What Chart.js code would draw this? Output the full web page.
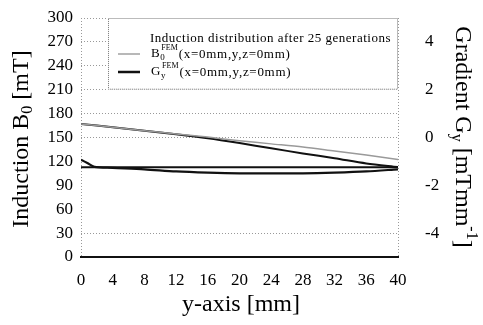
<!DOCTYPE html>
<html>
<head>
<meta charset="utf-8">
<script src="https://cdn.jsdelivr.net/npm/chart.js@4.4.1/dist/chart.umd.min.js"></script>
<style>
  html, body { margin: 0; padding: 0; background: #fff; }
  #wrap { width: 483px; height: 325px; position: relative; }
</style>
</head>
<body>
<div id="wrap"><canvas id="c"></canvas></div>
<script>
// y positions along the axis [mm]
const yPos = [0, 4, 8, 12, 16, 20, 24, 28, 32, 36, 40];
const yPosGy = [0, 0.8, 1.7, 4, 8, 12, 16, 20, 24, 28, 32, 36, 40];

// induction B0 [mT] (left axis)
const b0Dark = [167, 163, 158.5, 154, 149, 143, 136.5, 130, 124, 117.5, 113];
const b0Gray = [167, 163, 158.5, 154.5, 150.5, 146, 142, 138, 133, 128, 122.5];

// gradient Gy [mT/mm] (right axis)
const gyCurve = [-0.93, -1.07, -1.23, -1.27, -1.33, -1.42, -1.47, -1.5, -1.5, -1.5, -1.47, -1.42, -1.33];
const gyFlat = [-1.24, -1.24, -1.24, -1.24, -1.24, -1.24, -1.24, -1.24, -1.24, -1.24, -1.24];

const xTicks = [0, 4, 8, 12, 16, 20, 24, 28, 32, 36, 40];
const b0Ticks = [0, 30, 60, 90, 120, 150, 180, 210, 240, 270, 300];
const gyTicks = [-4, -2, 0, 2, 4];
const gridShown = [30, 150, 180, 210, 240, 270, 300];

const FONT = "'Liberation Serif', 'DejaVu Serif', serif";

const pts = (xs, ys) => xs.map((x, i) => ({ x: x, y: ys[i] }));

// draw a string made of normal / sub / sup pieces, centred on x
function drawRich(ctx, parts, x, y) {
    let w = 0;
    parts.forEach(p => { ctx.font = p.size + 'px ' + FONT; w += ctx.measureText(p.t).width; });
    let cx = x - w / 2;
    parts.forEach(p => {
        ctx.font = p.size + 'px ' + FONT;
        ctx.fillText(p.t, cx, y + (p.dy || 0));
        cx += ctx.measureText(p.t).width;
    });
}

const extras = {
    id: 'extras',
    afterDatasetsDraw(chart) {
        const ctx = chart.ctx;
        const a = chart.chartArea;
        ctx.save();
        ctx.textBaseline = 'middle';
        ctx.textAlign = 'left';

        // legend box
        const lx = 108, ly = a.top, lw = a.right - 108, lh = chart.scales.y.getPixelForValue(210) - a.top;
        ctx.fillStyle = '#fff';
        ctx.fillRect(lx, ly, lw, lh);
        ctx.strokeStyle = '#777';
        ctx.lineWidth = 1;
        ctx.setLineDash([1, 1]);
        ctx.strokeRect(lx + 0.5, ly + 0.5, lw - 1, lh - 1);
        ctx.setLineDash([]);

        ctx.fillStyle = '#000';
        ctx.letterSpacing = '0.5px';
        ctx.font = '13px ' + FONT;
        ctx.fillText('Induction distribution after 25 generations', 150, 39);

        ctx.strokeStyle = '#888';
        ctx.lineWidth = 1.2;
        ctx.beginPath(); ctx.moveTo(118, 54); ctx.lineTo(140, 54); ctx.stroke();
        ctx.strokeStyle = '#111';
        ctx.lineWidth = 2.5;
        ctx.beginPath(); ctx.moveTo(118, 72); ctx.lineTo(140, 72); ctx.stroke();

        const row = (label, sub, y) => {
            let cx = 151;
            ctx.letterSpacing = '0.7px';
            ctx.font = '13px ' + FONT;
            ctx.fillText(label, cx, y); cx += ctx.measureText(label).width;
            ctx.letterSpacing = '0px';
            ctx.font = '9px ' + FONT;
            ctx.fillText(sub, cx, y + 4);
            ctx.font = '8px ' + FONT;
            ctx.fillText('FEM', cx + 1, y - 6); cx += ctx.measureText('FEM').width + 2;
            ctx.letterSpacing = '0.7px';
            ctx.font = '13px ' + FONT;
            ctx.fillText('(x=0mm,y,z=0mm)', cx, y + 1);
        };
        row('B', '0', 54);
        row('G', 'y', 72);
        ctx.letterSpacing = '0px';

        // axis titles
        ctx.save();
        ctx.translate(22, 139);
        ctx.rotate(-Math.PI / 2);
        drawRich(ctx, [{ t: 'Induction B', size: 24 }, { t: '0', size: 16, dy: 6 }, { t: ' [mT]', size: 24 }], 0, 0);
        ctx.restore();

        ctx.save();
        ctx.translate(462, 137);
        ctx.rotate(Math.PI / 2);
        drawRich(ctx, [{ t: 'Gradient G', size: 24 }, { t: 'y', size: 16, dy: 6 }, { t: ' [mTmm', size: 24 },
            { t: '-1', size: 16, dy: -9 }, { t: ']', size: 24 }], 0, 0);
        ctx.restore();

        drawRich(ctx, [{ t: 'y-axis [mm]', size: 24 }], 241, 305);
        ctx.restore();
    }
};

new Chart(document.getElementById('c'), {
    type: 'line',
    data: {
        datasets: [
            { label: 'B0 gray', data: pts(yPos, b0Gray), yAxisID: 'y', borderColor: '#9a9a9a', borderWidth: 1.5 },
            { label: 'B0 dark', data: pts(yPos, b0Dark), yAxisID: 'y', borderColor: '#111', borderWidth: 2 },
            { label: 'Gy flat', data: pts(yPos, gyFlat), yAxisID: 'y2', borderColor: '#111', borderWidth: 2 },
            { label: 'Gy', data: pts(yPosGy, gyCurve), yAxisID: 'y2', borderColor: '#111', borderWidth: 2.2 }
        ]
    },
    options: {
        responsive: true,
        maintainAspectRatio: false,
        animation: false,
        devicePixelRatio: 1,
        layout: { padding: { top: 18, left: 0, right: 0, bottom: 0 } },
        elements: { point: { radius: 0 }, line: { tension: 0.3, fill: false } },
        plugins: { legend: { display: false }, tooltip: { enabled: false } },
        scales: {
            x: {
                type: 'linear', min: 0, max: 40,
                afterBuildTicks: s => { s.ticks = xTicks.map(v => ({ value: v })); },
                afterFit: s => { s.height = 68; s.paddingLeft = 0; s.paddingRight = 0; },
                ticks: { font: { family: FONT, size: 17 }, color: '#000', padding: 13, autoSkip: false, maxRotation: 0 },
                grid: { drawTicks: false, color: c => (c.tick && (c.tick.value === 0 || c.tick.value === 40)) ? '#999' : 'transparent' },
                border: { color: '#111', width: 2, dash: [1, 2] }
            },
            y: {
                position: 'left', min: 0, max: 300,
                afterBuildTicks: s => { s.ticks = b0Ticks.map(v => ({ value: v })); },
                afterFit: s => { s.width = 81; s.paddingTop = 0; s.paddingBottom = 0; },
                ticks: { font: { family: FONT, size: 17 }, color: '#000', padding: 8, autoSkip: false },
                grid: { drawTicks: false, color: c => (c.tick && gridShown.includes(c.tick.value)) ? '#999' : 'transparent' },
                border: { display: false, dash: [1, 2] }
            },
            y2: {
                position: 'right', min: -5, max: 5,
                afterBuildTicks: s => { s.ticks = gyTicks.map(v => ({ value: v })); },
                afterFit: s => { s.width = 85; s.paddingTop = 0; s.paddingBottom = 0; },
                ticks: { font: { family: FONT, size: 17 }, color: '#000', padding: 19, autoSkip: false },
                grid: { display: false },
                border: { display: false }
            }
        }
    },
    plugins: [extras]
});
</script>
</body>
</html>
